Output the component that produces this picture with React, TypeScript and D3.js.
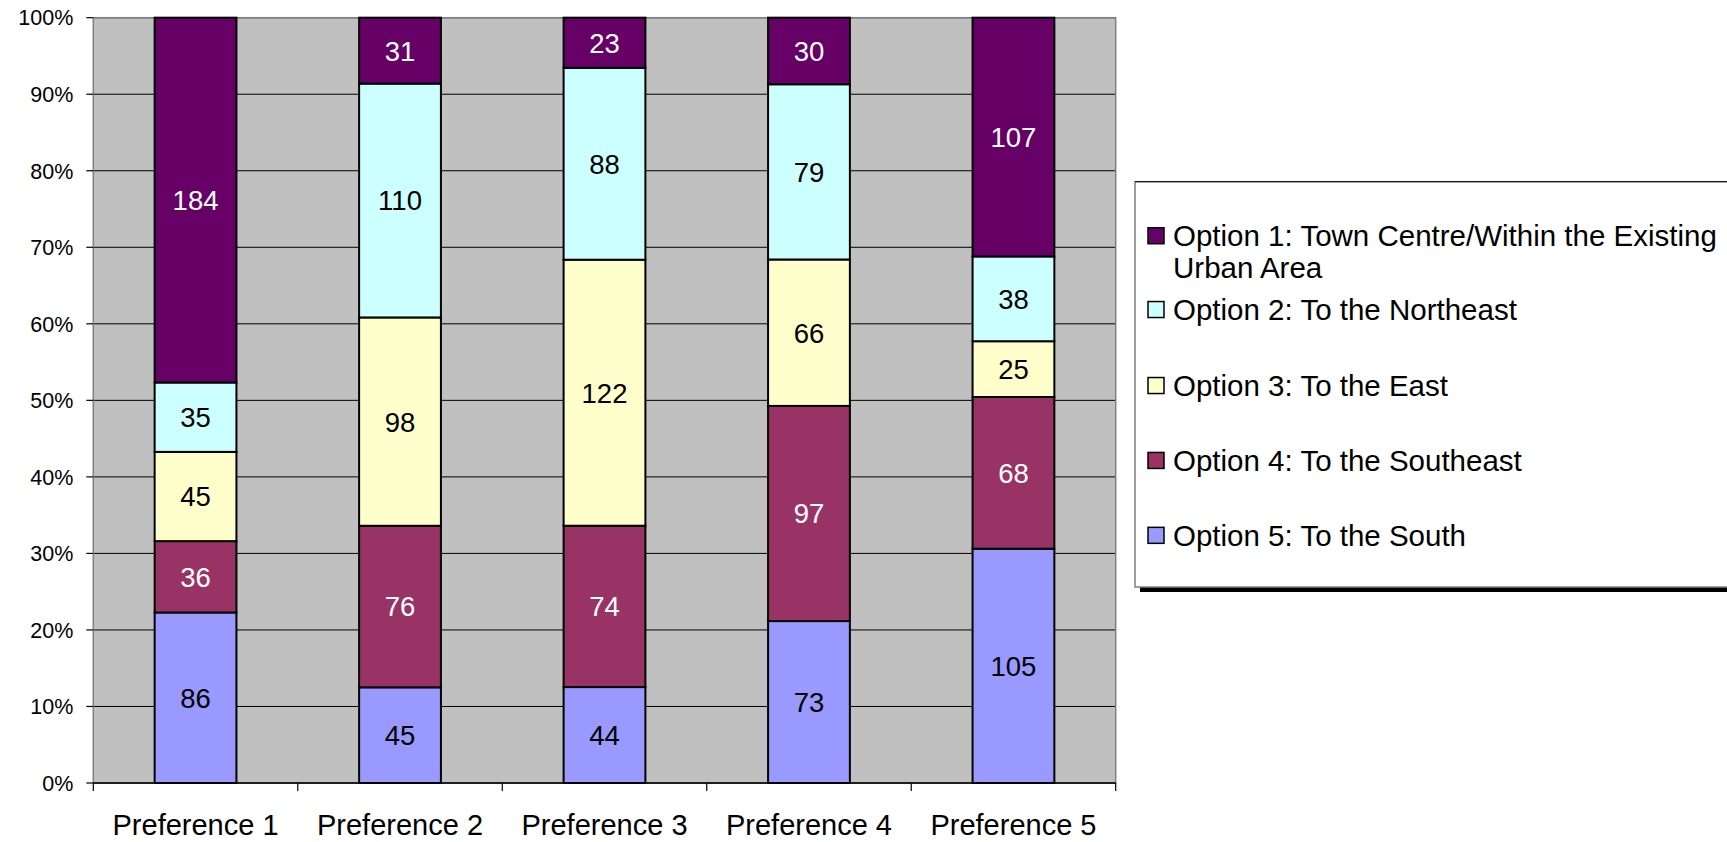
import { useMemo } from "react"
import * as d3 from "d3"

const categories = ["Preference 1", "Preference 2", "Preference 3", "Preference 4", "Preference 5"]

const seriesNames = [
  "Option 5: To the South",
  "Option 4: To the Southeast",
  "Option 3: To the East",
  "Option 2: To the Northeast",
  "Option 1: Town Centre/Within the Existing Urban Area",
]

// values per series, one per category (stacked bottom to top)
const south = [86, 45, 44, 73, 105]
const southeast = [36, 76, 74, 97, 68]
const east = [45, 98, 122, 66, 25]
const northeast = [35, 110, 88, 79, 38]
const townCentre = [184, 31, 23, 30, 107]

const yTicks = [0, 0.1, 0.2, 0.3, 0.4, 0.5, 0.6, 0.7, 0.8, 0.9, 1]

const seriesColors = ["#9999FF", "#993366", "#FFFFCC", "#CCFFFF", "#660066"]
const labelColors = ["#000", "#fff", "#000", "#000", "#fff"]

const FONT = "'Liberation Sans', Arial, Helvetica, sans-serif"

export default function App() {
  const width = 1727
  const height = 842
  const plot = { left: 93.3, right: 1115.7, top: 17.7, bottom: 783 }

  const series = [south, southeast, east, northeast, townCentre]

  const x = d3
    .scaleBand<string>()
    .domain(categories)
    .range([plot.left, plot.right])
    .paddingInner(0.6)
    .paddingOuter(0.3)

  const y = d3.scaleLinear().domain([0, 1]).range([plot.bottom, plot.top])

  const stacked = useMemo(() => {
    const rows = categories.map((c, i) => {
      const row: Record<string, number | string> = { cat: c }
      const total = d3.sum(series, (s) => s[i])
      seriesNames.forEach((n, k) => (row[n] = series[k][i] / total))
      return row
    })
    return d3.stack<any>().keys(seriesNames)(rows)
  }, [])

  const step = x.step()
  const boundaries = d3.range(categories.length + 1).map((i) => plot.left + i * step)

  // legend layout (Excel style spacing)
  const legendX = 1135
  const legendTop = 181.7
  const legendBottom = 587
  const legendFont = 29.5
  const legendRows = [
    { idx: 4, lines: ["Option 1: Town Centre/Within the Existing", "Urban Area"], base: 246.3 },
    { idx: 3, lines: ["Option 2: To the Northeast"], base: 320.1 },
    { idx: 2, lines: ["Option 3: To the East"], base: 396.1 },
    { idx: 1, lines: ["Option 4: To the Southeast"], base: 471 },
    { idx: 0, lines: ["Option 5: To the South"], base: 545.9 },
  ]

  return (
    <svg
      width={width}
      height={height}
      style={{ position: "absolute", left: 0, top: 0, background: "#fff" }}
      fontFamily={FONT}
    >
      {/* plot background */}
      <rect
        x={plot.left}
        y={plot.top}
        width={plot.right - plot.left}
        height={plot.bottom - plot.top}
        fill="#C0C0C0"
      />
      {/* gridlines */}
      {yTicks.map((t) => (
        <line key={t} x1={plot.left} x2={plot.right} y1={y(t)} y2={y(t)} stroke="#000" strokeWidth={1} />
      ))}
      {/* plot border */}
      <rect
        x={plot.left}
        y={plot.top}
        width={plot.right - plot.left}
        height={plot.bottom - plot.top}
        fill="none"
        stroke="#808080"
        strokeWidth={1.5}
      />

      {/* bars */}
      {stacked.map((layer, k) => (
        <g key={layer.key}>
          {layer.map((d, i) => (
            <rect
              key={i}
              x={x(categories[i])!}
              y={y(d[1])}
              width={x.bandwidth()}
              height={y(d[0]) - y(d[1])}
              fill={seriesColors[k]}
              stroke="#000"
              strokeWidth={2}
            />
          ))}
        </g>
      ))}
      {/* data labels */}
      {stacked.map((layer, k) => (
        <g key={"l" + layer.key}>
          {layer.map((d, i) => (
            <text
              key={i}
              x={x(categories[i])! + x.bandwidth() / 2}
              y={(y(d[0]) + y(d[1])) / 2}
              dy="0.36em"
              textAnchor="middle"
              fontSize={27.5}
              fill={labelColors[k]}
            >
              {series[k][i]}
            </text>
          ))}
        </g>
      ))}

      {/* x axis */}
      <line x1={plot.left} x2={plot.right} y1={plot.bottom} y2={plot.bottom} stroke="#000" strokeWidth={1.5} />
      {boundaries.map((b, i) => (
        <line key={i} x1={b} x2={b} y1={plot.bottom} y2={plot.bottom + 8} stroke="#000" strokeWidth={1.2} />
      ))}
      {categories.map((c) => (
        <text key={c} x={x(c)! + x.bandwidth() / 2} y={835} textAnchor="middle" fontSize={29} fill="#000">
          {c}
        </text>
      ))}

      {/* y axis */}
      {yTicks.map((t) => (
        <g key={"t" + t}>
          <line x1={plot.left - 7} x2={plot.left} y1={y(t)} y2={y(t)} stroke="#000" strokeWidth={1.2} />
          <text x={73.3} y={y(t)} dy="0.36em" textAnchor="end" fontSize={21.5} fill="#000">
            {d3.format(".0%")(t)}
          </text>
        </g>
      ))}

      {/* legend */}
      <rect x={legendX + 5} y={legendBottom} width={width} height={5} fill="#000" />
      <rect
        x={legendX}
        y={legendTop}
        width={width}
        height={legendBottom - legendTop}
        fill="#fff"
        stroke="#808080"
        strokeWidth={1.5}
      />
      <line x1={legendX} x2={width} y1={legendTop} y2={legendTop} stroke="#000" strokeWidth={1} />
      {legendRows.map((r) => (
        <g key={r.idx}>
          <rect
            x={1148}
            y={r.base - legendFont * 0.358 - 8}
            width={16}
            height={16}
            fill={seriesColors[r.idx]}
            stroke="#000"
            strokeWidth={1.5}
          />
          {r.lines.map((ln, j) => (
            <text key={j} x={1173} y={r.base + j * 31.9} fontSize={legendFont} fill="#000">
              {ln}
            </text>
          ))}
        </g>
      ))}
    </svg>
  )
}
